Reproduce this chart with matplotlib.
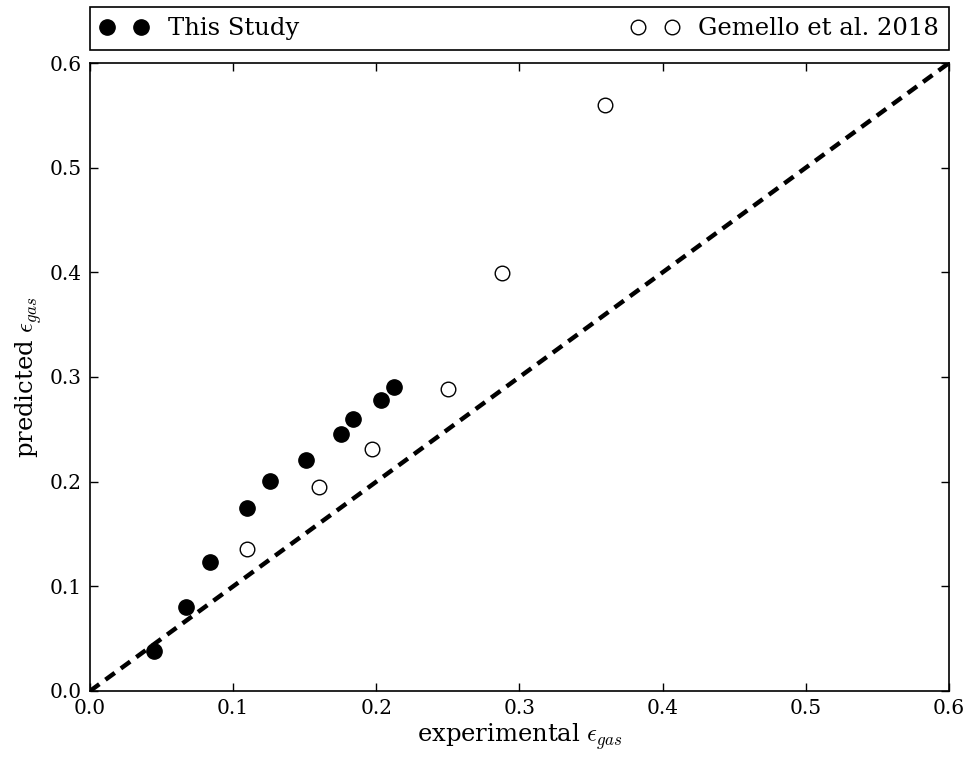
import numpy as np
import matplotlib
matplotlib.use("Agg")
import matplotlib.pyplot as plt

plt.rcParams['font.family'] = 'DejaVu Serif'
plt.rcParams['mathtext.fontset'] = 'cm'
plt.rcParams['xtick.direction'] = 'in'
plt.rcParams['ytick.direction'] = 'in'

# this study
exp_this = [0.045, 0.067, 0.084, 0.110, 0.126, 0.151, 0.175, 0.184, 0.203, 0.212]
pred_this = [0.038, 0.080, 0.123, 0.175, 0.201, 0.221, 0.246, 0.260, 0.278, 0.290]

# Gemello et al. 2018
exp_gem = [0.110, 0.160, 0.197, 0.250, 0.288, 0.360]
pred_gem = [0.136, 0.195, 0.231, 0.289, 0.399, 0.560]

parity = [0.0, 0.6]

fig = plt.figure(figsize=(9.71, 7.61), dpi=100)
ax = fig.add_axes([0.0927, 0.092, 0.8846, 0.8252])

line, = ax.plot(parity, parity, 'k--', lw=3.2, zorder=3)
line.set_dashes((2.6, 1.7))
ax.plot(exp_this, pred_this, 'o', color='k', ms=11, mec='k', mew=1,
        label='This Study', zorder=2)
ax.plot(exp_gem, pred_gem, 'o', mfc='white', ms=10.5, mec='k', mew=1,
        label='Gemello et al. 2018', zorder=2)

ax.set_xlim(0, 0.6)
ax.set_ylim(0, 0.6)
ax.set_xticks(np.arange(0, 0.61, 0.1))
ax.set_yticks(np.arange(0, 0.61, 0.1))
ax.tick_params(labelsize=14.5, length=6, width=1, top=True, right=True, pad=6)
for s in ax.spines.values():
    s.set_linewidth(1.2)

ax.set_xlabel(r'experimental $\epsilon_{gas}$', fontsize=17.5, labelpad=2)
ax.set_ylabel(r'predicted $\epsilon_{gas}$', fontsize=17.5, labelpad=4)

leg = ax.legend(bbox_to_anchor=(0, 1.021, 1, 0.067), loc='lower left',
                ncol=2, mode='expand', borderaxespad=0, numpoints=2,
                fontsize=17.5, fancybox=False, framealpha=1, edgecolor='k',
                handlelength=2.0)
leg.get_frame().set_linewidth(1.2)

fig.savefig('out.png', dpi=100, facecolor='white')
